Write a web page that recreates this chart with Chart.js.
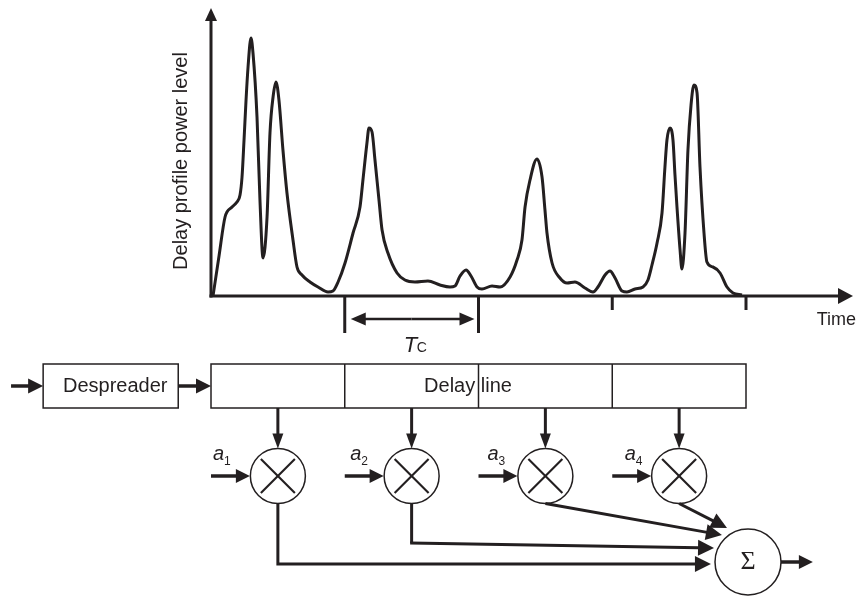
<!DOCTYPE html>
<html>
<head>
<meta charset="utf-8">
<title>Delay profile and RAKE combiner</title>
<script src="https://cdn.jsdelivr.net/npm/chart.js@4"></script>
<style>
  html, body { margin: 0; padding: 0; background: #fff; }
</style>
</head>
<body>
<canvas id="delayChart" width="857" height="596"></canvas>
<script>
// delay profile: time in chip periods (Tc), power in arbitrary units
const delayTimes = [
  0.015, 0.060, 0.105, 0.157, 0.194, 0.217, 0.232, 0.247, 0.262, 0.277,
  0.299, 0.314, 0.344, 0.366, 0.389, 0.419, 0.441, 0.464, 0.486, 0.508,
  0.538, 0.568, 0.613, 0.643, 0.680, 0.740, 0.800, 0.875, 0.912, 0.950,
  1.002, 1.062, 1.114, 1.136, 1.166, 1.181, 1.204, 1.226, 1.256, 1.279,
  1.323, 1.391, 1.450, 1.525, 1.622, 1.712, 1.787, 1.824, 1.862, 1.907,
  1.944, 1.989, 2.026, 2.101, 2.161, 2.236, 2.288, 2.325, 2.348, 2.385,
  2.437, 2.475, 2.497, 2.512, 2.550, 2.609, 2.662, 2.721, 2.796, 2.856,
  2.893, 2.946, 2.983, 3.021, 3.073, 3.110, 3.170, 3.230, 3.267, 3.297,
  3.335, 3.372, 3.394, 3.409, 3.432, 3.454, 3.469, 3.484, 3.507, 3.521,
  3.544, 3.566, 3.589, 3.611, 3.634, 3.656, 3.686, 3.708, 3.753, 3.806,
  3.858, 3.903, 3.970
];
const powerLevels = [
  0, 40, 79, 89, 94, 101, 119, 156, 196, 229,
  258, 243, 179, 96, 38, 79, 163, 199, 214, 196,
  146, 103, 56, 29, 21, 14, 9, 4, 5, 14,
  33, 63, 89, 116, 153, 168, 164, 136, 96, 66,
  43, 23, 16, 14, 15, 11, 9, 10, 20, 26,
  20, 9, 7, 10, 9, 19, 36, 56, 89, 116,
  137, 119, 86, 63, 33, 18, 13, 14, 8, 4,
  9, 21, 25, 18, 5, 4, 7, 9, 16, 31,
  53, 83, 129, 156, 168, 156, 121, 89, 46, 27,
  63, 146, 191, 211, 203, 129, 63, 34, 29, 23,
  9, 3, 1
];

// time axis tick marks; the first two carry the Tc bracket
const chipTicks = [1, 2, 3, 4];
const bracketTicks = [1, 2];

// delay line cells and the rake fingers tapped from them
const cellBorders = [0, 1, 2, 3, 4];
const fingerTaps = [0.5, 1.5, 2.5, 3.5];
const fingerWeights = ["1", "2", "3", "4"];

const xTitle = "Time";
const yTitle = "Delay profile power level";
const chipLabel = "T";
const chipSub = "C";

const ink = "#231f20";
const sans = "'Liberation Sans', Arial, sans-serif";

function arrow(ctx, x1, y1, x2, y2, len, half, width) {
  const a = Math.atan2(y2 - y1, x2 - x1);
  const bx = x2 - len * Math.cos(a), by = y2 - len * Math.sin(a);
  ctx.lineWidth = width;
  ctx.beginPath();
  ctx.moveTo(x1, y1);
  ctx.lineTo(bx + Math.cos(a), by + Math.sin(a));
  ctx.stroke();
  ctx.beginPath();
  ctx.moveTo(x2, y2);
  ctx.lineTo(bx + half * Math.sin(a), by - half * Math.cos(a));
  ctx.lineTo(bx - half * Math.sin(a), by + half * Math.cos(a));
  ctx.closePath();
  ctx.fill();
}

function line(ctx, pts, width) {
  ctx.lineWidth = width;
  ctx.beginPath();
  pts.forEach((p, i) => i ? ctx.lineTo(p[0], p[1]) : ctx.moveTo(p[0], p[1]));
  ctx.stroke();
}

// axes with arrow heads, chip ticks, Tc bracket and axis titles
const axesPlugin = {
  id: "axes",
  beforeDatasetsDraw(chart) {
    const ctx = chart.ctx, x = chart.scales.x, y = chart.scales.y;
    const x0 = x.getPixelForValue(0), y0 = y.getPixelForValue(0);
    ctx.save();
    ctx.strokeStyle = ink;
    ctx.fillStyle = ink;
    ctx.lineCap = "butt";
    arrow(ctx, x0, y0 + 1.5, x0, y.getPixelForValue(y.max), 13, 6, 3);
    arrow(ctx, x0 - 1.5, y0, x.getPixelForValue(x.max), y0, 15, 8, 3);

    chipTicks.forEach(t => {
      const px = x.getPixelForValue(t);
      const len = bracketTicks.includes(t) ? 37 : 14;
      line(ctx, [[px, y0], [px, y0 + len]], 3);
    });

    const b1 = x.getPixelForValue(bracketTicks[0]);
    const b2 = x.getPixelForValue(bracketTicks[1]);
    const mid = (b1 + b2) / 2, by = y0 + 23;
    arrow(ctx, mid, by, b1 + 6, by, 15, 6.5, 2.5);
    arrow(ctx, mid, by, b2 - 4, by, 15, 6.5, 2.5);

    ctx.textBaseline = "alphabetic";
    ctx.textAlign = "left";
    ctx.font = "italic 22px " + sans;
    ctx.fillText(chipLabel, mid - 8, y0 + 56);
    ctx.font = "14px " + sans;
    ctx.fillText(chipSub, mid + 5, y0 + 56);

    ctx.font = "18px " + sans;
    ctx.textAlign = "right";
    ctx.fillText(xTitle, chart.width - 1, y0 + 29);

    ctx.save();
    ctx.translate(x0 - 24, (y0 + y.getPixelForValue(y.max)) / 2);
    ctx.rotate(-Math.PI / 2);
    ctx.textAlign = "center";
    ctx.font = "20px " + sans;
    ctx.fillText(yTitle, -9, 0);
    ctx.restore();
    ctx.restore();
  }
};

// despreader, delay line, weighting multipliers and the summing node
const rakePlugin = {
  id: "rake",
  afterDraw(chart) {
    const ctx = chart.ctx, x = chart.scales.x, y = chart.scales.y;
    const px = t => x.getPixelForValue(t);
    const y0 = y.getPixelForValue(0);
    const boxTop = y0 + 68, boxBot = y0 + 112, boxMid = (boxTop + boxBot) / 2;
    const cy = y0 + 180, r = 27.5;
    const sx = px(4.015), sy = y0 + 266, sr = 33;

    ctx.save();
    ctx.strokeStyle = ink;
    ctx.fillStyle = ink;

    // despreader block
    ctx.lineWidth = 1.5;
    ctx.strokeRect(px(-1.255), boxTop, px(-0.245) - px(-1.255), boxBot - boxTop);
    arrow(ctx, px(-1.495), boxMid, px(-1.255), boxMid, 15, 7.5, 3.5);
    arrow(ctx, px(-0.245), boxMid, px(0), boxMid, 15, 7.5, 3.5);

    // delay line cells
    ctx.lineWidth = 1.5;
    const first = cellBorders[0], last = cellBorders[cellBorders.length - 1];
    ctx.strokeRect(px(first), boxTop, px(last) - px(first), boxBot - boxTop);
    cellBorders.slice(1, -1).forEach(t => line(ctx, [[px(t), boxTop], [px(t), boxBot]], 1.5));

    ctx.font = "20px " + sans;
    ctx.textAlign = "left";
    ctx.textBaseline = "alphabetic";
    ctx.fillText("Despreader", px(-1.107), boxBot - 16);
    ctx.fillText("Delay line", px(1.593), boxBot - 16);

    // multipliers
    fingerTaps.forEach((t, i) => {
      const cx = px(t);
      arrow(ctx, cx, boxBot, cx, cy - r, 15, 5.5, 3);
      const inX = px(Math.floor(t));
      arrow(ctx, inX, cy, cx - r - 0.5, cy, 14, 7, 3.5);
      ctx.lineWidth = 1.5;
      ctx.beginPath();
      ctx.arc(cx, cy, r, 0, Math.PI * 2);
      ctx.stroke();
      const d = 17;
      line(ctx, [[cx - d, cy - d], [cx + d, cy + d]], 2.2);
      line(ctx, [[cx - d, cy + d], [cx + d, cy - d]], 2.2);
      const lx = inX + 2 + 3.5 * i;
      ctx.font = "italic 20px " + sans;
      ctx.fillText("a", lx, cy - 16);
      ctx.font = "12px " + sans;
      ctx.fillText(fingerWeights[i], lx + 11, cy - 11);
    });

    // paths into the summing node
    const c = fingerTaps.map(px), bot = cy + r;
    line(ctx, [[c[0], bot], [c[0], y0 + 268], [px(3.70), y0 + 268]], 3);
    arrow(ctx, px(3.69), y0 + 268, px(3.738), y0 + 268, 16, 8, 3);
    line(ctx, [[c[1], bot], [c[1], y0 + 247]], 3);
    arrow(ctx, c[1] - 1.5, y0 + 247, px(3.761), y0 + 252, 16, 8, 3);
    arrow(ctx, c[2], bot, px(3.82), y0 + 239, 16, 8, 3);
    arrow(ctx, c[3], bot, px(3.858), y0 + 232, 16, 8, 3);

    ctx.lineWidth = 1.5;
    ctx.beginPath();
    ctx.arc(sx, sy, sr, 0, Math.PI * 2);
    ctx.stroke();
    ctx.font = "26px 'Liberation Serif', 'Times New Roman', serif";
    ctx.textAlign = "center";
    ctx.textBaseline = "middle";
    ctx.fillText("\u03A3", sx, sy);
    arrow(ctx, sx + sr, sy, px(4.5), sy, 14, 7, 3.5);
    ctx.restore();
  }
};

new Chart(document.getElementById("delayChart").getContext("2d"), {
  type: "line",
  data: {
    datasets: [{
      label: yTitle,
      data: delayTimes.map((t, i) => ({ x: t, y: powerLevels[i] })),
      borderColor: ink,
      borderWidth: 3,
      borderJoinStyle: "round",
      pointRadius: 0,
      cubicInterpolationMode: "monotone",
      fill: false
    }]
  },
  options: {
    responsive: false,
    animation: false,
    devicePixelRatio: 1,
    layout: { padding: { left: 211, right: 4, top: 8, bottom: 300 } },
    scales: {
      x: { type: "linear", min: 0, max: 4.8, display: false },
      y: { min: 0, max: 288, display: false }
    },
    plugins: {
      legend: { display: false },
      tooltip: { enabled: false }
    }
  },
  plugins: [axesPlugin, rakePlugin]
});
</script>
</body>
</html>
